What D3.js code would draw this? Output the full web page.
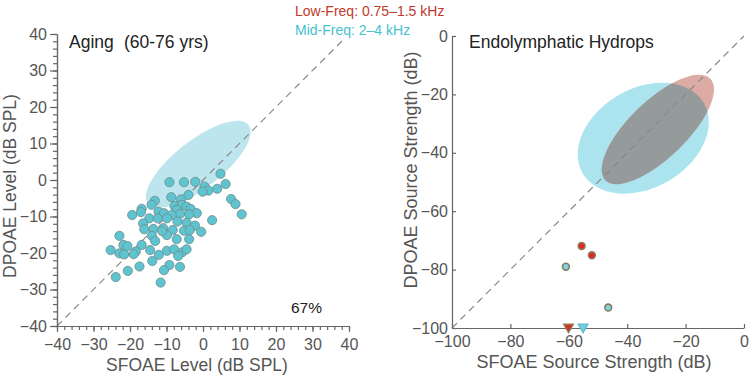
<!DOCTYPE html>
<html>
<head>
<meta charset="utf-8">
<script src="https://cdn.jsdelivr.net/npm/d3@7"></script>
<style>
body { margin: 0; background: #fff; }
svg text { font-family: "Liberation Sans", Arial, sans-serif; }
</style>
</head>
<body>
<div id="chart"></div>
<script>
// Aging panel: SFOAE level vs DPOAE level (dB SPL), one ear per point
var agingX = [4.8, 6.2, -9.2, -5.2, -2.1, 0.4, 1.5, -0.1, 3.9, 7.7, 8.9, 10.6, 2.5, -0.5,
	-8.7, -4.0, -6.0, -13.2, -14.1, -7.8, -5.8, -4.5, -7.2, -3.4, -12.2, -10.7, -1.7, -3.8,
	-6.3, -8.6, -14.7, -12.4, -9.9, -7.0, -4.5, -2.2, -16.4, -10.9, -13.6, -16.1, -8.3, -5.2,
	-3.6, -9.9, -14.0, -13.1, -7.2, -3.8, -16.8, -14.5, -9.9, -7.9, -5.7, -4.5, -6.8, -12.1,
	-13.9, -9.2, -6.3, -10.7, -11.6, -17.4, -19.4, -16.8, -17.0, -22.9, -21.8, -20.7, -25.3,
	-22.9, -21.6, -18.4, -19.0, -20.6, -23.9, -11.2];
var agingY = [1.7, -1.1, -0.6, -0.6, -0.5, -1.8, -2.9, -3.2, -2.4, -5.2, -6.6, -9.4, -11.0, -14.2,
	-4.7, -4.1, -5.3, -5.7, -6.8, -7.1, -6.8, -7.3, -8.2, -7.9, -8.7, -9.1, -9.1, -9.4,
	-9.3, -9.6, -10.5, -10.5, -10.5, -11.4, -11.7, -12.5, -11.9, -13.2, -13.4, -13.5, -13.7, -13.9,
	-13.7, -15.1, -15.3, -16.7, -16.2, -16.2, -17.8, -19.2, -19.4, -19.0, -19.8, -19.0, -20.8, -20.5,
	-22.2, -23.3, -23.8, -24.7, -28.1, -23.7, -9.6, -7.9, -8.8, -15.3, -17.8, -18.1, -19.2,
	-20.1, -20.4, -19.6, -20.3, -24.9, -26.6, -14.0];
// normal-hearing region: cx, cy, semi-major, semi-minor, tilt (deg)
var agingEllipse = [-1.3, 4.3, 17.5, 6.5, 38];
var levelTicks = [-40, -30, -20, -10, 0, 10, 20, 30, 40];

// Endolymphatic hydrops panel: source strengths (dB)
var lowFreqX = [-55.6, -52.1];
var lowFreqY = [-71.9, -75.1];
var midFreqX = [-61.0, -46.5];
var midFreqY = [-79.0, -93.0];
var lowFloorX = [-60.1];   // below the noise floor
var midFloorX = [-55.1];
var floorLevel = -100;
var midEllipse = [-34.5, -35, 24, 17, 30];
var lowEllipse = [-29.5, -32, 25, 9.8, 44];
var strengthTicks = [-100, -80, -60, -40, -20, 0];

var legendLabels = ["Low-Freq: 0.75\u20131.5 kHz", "Mid-Freq: 2\u20134 kHz"];
var legendColors = ["#c0392b", "#45c1d1"];

var svg = d3.select("#chart").append("svg")
	.attr("width", 752)
	.attr("height", 376);

function styleAxis(g){
	g.select(".domain").attr("stroke", "#666").attr("stroke-width", 1.2);
	g.selectAll(".tick line").attr("stroke", "#666").attr("stroke-width", 1.2);
	g.selectAll(".tick text").attr("fill", "#555").style("font-size", "16px");
}

function drawEllipse(g, x, y, e, fill){
	var k = x(1) - x(0);
	return g.append("ellipse")
		.attr("transform", "translate(" + x(e[0]) + "," + y(e[1]) + ") rotate(" + (-e[4]) + ")")
		.attr("rx", e[2] * k)
		.attr("ry", e[3] * k)
		.attr("fill", fill);
}

/* ---------- left panel ---------- */
var xL = d3.scaleLinear().domain([-40, 40]).range([57, 349]);
var yL = d3.scaleLinear().domain([-40, 40]).range([326, 34]);
var left = svg.append("g");

drawEllipse(left, xL, yL, agingEllipse, "#bde5ee");

left.append("line")
	.attr("x1", xL(-40)).attr("y1", yL(-40))
	.attr("x2", xL(38.5)).attr("y2", yL(38.5))
	.attr("stroke", "#888").attr("stroke-width", 1.2)
	.attr("stroke-dasharray", "7,5");

left.selectAll("circle.age").data(agingX).enter()
	.append("circle")
	.attr("class", "age")
	.attr("cx", function(d){ return xL(d); })
	.attr("cy", function(d, i){ return yL(agingY[i]); })
	.attr("r", 4.6)
	.attr("fill", "#5ec4d0")
	.attr("stroke", "#6f8a8c")
	.attr("stroke-width", 0.8);

// minor ticks first, then the labelled ones
left.append("g").attr("transform", "translate(0,326)")
	.call(d3.axisBottom(xL).tickValues(d3.range(-40, 41, 2)).tickSize(4).tickSizeOuter(0).tickFormat(""))
	.call(styleAxis);
left.append("g").attr("transform", "translate(57,0)")
	.call(d3.axisLeft(yL).tickValues(d3.range(-40, 41, 2)).tickSize(4).tickSizeOuter(0).tickFormat(""))
	.call(styleAxis);
left.append("g").attr("transform", "translate(0,326)")
	.call(d3.axisBottom(xL).tickValues(levelTicks).tickSize(6).tickSizeOuter(0).tickPadding(7))
	.call(styleAxis);
left.append("g").attr("transform", "translate(57,0)")
	.call(d3.axisLeft(yL).tickValues(levelTicks).tickSize(7).tickSizeOuter(0).tickPadding(3))
	.call(styleAxis);

left.append("text").text("Aging").attr("x", 69).attr("y", 48)
	.attr("fill", "#222").style("font-size", "17.5px");
left.append("text").text("(60-76 yrs)").attr("x", 124).attr("y", 48)
	.attr("fill", "#222").style("font-size", "17.5px");
left.append("text").text("67%").attr("x", 291).attr("y", 313)
	.attr("fill", "#222").style("font-size", "15.5px");

left.append("text").text("SFOAE Level (dB SPL)")
	.attr("x", 197).attr("y", 371)
	.attr("text-anchor", "middle")
	.attr("fill", "#555").style("font-size", "17.5px");
left.append("text").text("DPOAE Level (dB SPL)")
	.attr("transform", "translate(16,186) rotate(-90)")
	.attr("text-anchor", "middle")
	.attr("fill", "#555").style("font-size", "17.5px");

/* ---------- right panel ---------- */
var xR = d3.scaleLinear().domain([-100, 0]).range([452, 744]);
var yR = d3.scaleLinear().domain([-100, 0]).range([328, 36]);
var right = svg.append("g");

// the overlap of the two regions is shown in grey: redraw the low-freq
// ellipse clipped to the mid-freq one
var clip = svg.append("defs").append("clipPath").attr("id", "midClip");
drawEllipse(clip, xR, yR, midEllipse, "#000");

drawEllipse(right, xR, yR, midEllipse, "#abe4ef");
drawEllipse(right, xR, yR, lowEllipse, "#dcaba4");
drawEllipse(right.append("g").attr("clip-path", "url(#midClip)"), xR, yR, lowEllipse, "#959b9a");

right.append("line")
	.attr("x1", xR(-100)).attr("y1", yR(-100))
	.attr("x2", xR(0)).attr("y2", yR(0))
	.attr("stroke", "#888").attr("stroke-width", 1.2)
	.attr("stroke-dasharray", "7,5");

right.append("g").attr("transform", "translate(0,328)")
	.call(d3.axisBottom(xR).tickValues(strengthTicks).tickSize(-4).tickSizeOuter(0).tickPadding(8))
	.call(styleAxis);
right.append("g").attr("transform", "translate(452,0)")
	.call(d3.axisLeft(yR).tickValues(strengthTicks).tickSize(-4).tickSizeOuter(0).tickPadding(4))
	.call(styleAxis);

right.selectAll("circle.low").data(lowFreqX).enter()
	.append("circle").attr("class", "low")
	.attr("cx", function(d){ return xR(d); })
	.attr("cy", function(d, i){ return yR(lowFreqY[i]); })
	.attr("r", 3.4)
	.attr("fill", "#e5231f").attr("stroke", "#857d5e").attr("stroke-width", 1.6);
right.selectAll("circle.mid").data(midFreqX).enter()
	.append("circle").attr("class", "mid")
	.attr("cx", function(d){ return xR(d); })
	.attr("cy", function(d, i){ return yR(midFreqY[i]); })
	.attr("r", 3.4)
	.attr("fill", "#7ed2e2").attr("stroke", "#857d5e").attr("stroke-width", 1.6);

var tri = d3.symbol().type(d3.symbolTriangle).size(42);
right.selectAll("path.lowFloor").data(lowFloorX).enter()
	.append("path").attr("class", "lowFloor")
	.attr("d", tri)
	.attr("transform", function(d){ return "translate(" + xR(d) + "," + (yR(floorLevel) - 1) + ") rotate(180)"; })
	.attr("fill", "#cc3322").attr("stroke", "#8a7d5c").attr("stroke-width", 1.2);
right.selectAll("path.midFloor").data(midFloorX).enter()
	.append("path").attr("class", "midFloor")
	.attr("d", tri)
	.attr("transform", function(d){ return "translate(" + xR(d) + "," + (yR(floorLevel) - 1) + ") rotate(180)"; })
	.attr("fill", "#6fcfe0").attr("stroke", "#5bb8c8").attr("stroke-width", 1.2);

right.append("text").text("Endolymphatic Hydrops").attr("x", 469).attr("y", 48)
	.attr("fill", "#222").style("font-size", "17.5px");
right.append("text").text("SFOAE Source Strength (dB)")
	.attr("x", 594).attr("y", 368)
	.attr("text-anchor", "middle")
	.attr("fill", "#555").style("font-size", "18px");
right.append("text").text("DPOAE Source Strength (dB)")
	.attr("transform", "translate(417,170) rotate(-90)")
	.attr("text-anchor", "middle")
	.attr("fill", "#555").style("font-size", "18px");

// legend (text only, coloured)
svg.selectAll("text.legend").data(legendLabels).enter()
	.append("text").attr("class", "legend")
	.attr("x", 295)
	.attr("y", function(d, i){ return 16 + i * 19; })
	.attr("fill", function(d, i){ return legendColors[i]; })
	.style("font-size", "14px")
	.text(function(d){ return d; });
</script>
</body>
</html>
